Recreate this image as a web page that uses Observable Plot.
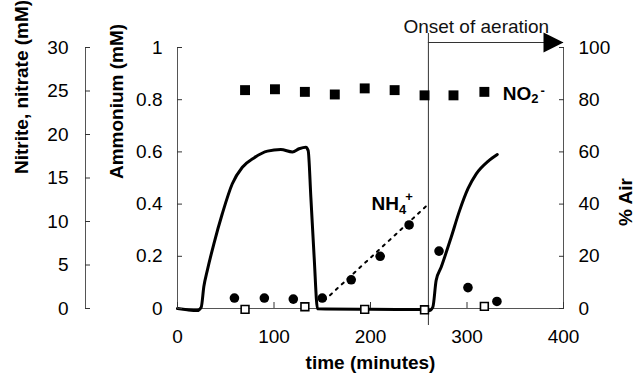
<!DOCTYPE html>
<html><head><meta charset="utf-8">
<script src="https://cdn.jsdelivr.net/npm/d3@7"></script>
<script src="https://cdn.jsdelivr.net/npm/@observablehq/plot@0.6"></script>
<style>body{margin:0;background:#fff;}</style>
</head><body><div id="chart"></div>
<script>
// ---- tick labels ----
const timeTicks = [0, 100, 200, 300, 400];
const ammoniumTicks = [0, 0.2, 0.4, 0.6, 0.8, 1];
const nitriteTicks = [0, 5, 10, 15, 20, 25, 30];
const airTicks = [0, 20, 40, 60, 80, 100];

// ---- series ----
// NO2- (filled squares, nitrite axis, mM)
const no2Time  = [70, 101, 132, 163, 194, 225, 256, 286, 318];
const no2Value = [25.1, 25.2, 24.9, 24.6, 25.3, 25.1, 24.5, 24.5, 24.9];
// nitrate (open squares, nitrite axis, mM)
const no3Time  = [70, 132, 194, 256, 318];
const no3Value = [-0.1, 0.2, -0.1, -0.15, 0.25];
// NH4+ (filled circles, ammonium axis, mM)
const nh4Time  = [59, 90, 120, 150, 180, 210, 240, 271, 301, 331];
const nh4Value = [0.04, 0.04, 0.036, 0.04, 0.11, 0.2, 0.32, 0.22, 0.08, 0.027];
// NH4+ trend (dotted)
const nh4FitTime  = [152, 260];
const nh4FitValue = [0.03, 0.40];
// % Air (solid line, right axis)
const airTime  = [0, 10, 20.5, 24.6, 27.3, 30.9, 37.7, 46.4, 56.8, 67.2, 79.3, 93.2, 107, 119.2, 126, 133, 135.4, 138.2, 141.6, 145.1, 200, 259.4, 261.1, 264.6, 268, 273.2, 283.6, 292.3, 301, 309.6, 321.8, 331.4];
const airValue = [0, -0.5, -0.8, 0.5, 8.4, 14.6, 24.8, 36.3, 47.8, 54.1, 57.7, 60.3, 60.9, 60, 61.2, 61.8, 60.5, 42.6, 19.7, -0.1, -0.3, -0.4, -0.8, 0.5, 10.7, 15.8, 27.3, 37.5, 45.9, 51.6, 56.4, 59];
const onsetTime = 260;

// ---- texts ----
const xTitle = "time (minutes)";
const nitriteTitle = "Nitrite, nitrate (mM)";
const ammoniumTitle = "Ammonium (mM)";
const airTitle = "% Air";
const onsetLabel = "Onset of aeration";
const no2Label = {t: 337, v: 24.7};   // nitrite units
const nh4Label = {t: 201, v: 0.40};   // ammonium units

const nitriteMax = d3.max(nitriteTicks);
const airMax = d3.max(airTicks);
const xMax = d3.max(timeTicks);

const zip = (a, b) => a.map((t, i) => ({t, v: b[i]}));
const no2 = zip(no2Time, no2Value);
const no3 = zip(no3Time, no3Value);
const nh4 = zip(nh4Time, nh4Value);
const nh4Fit = zip(nh4FitTime, nh4FitValue);
const air = zip(airTime, airValue);

const triangle = {draw(ctx, l) { ctx.moveTo(-10, 0); ctx.lineTo(10, 0); ctx.lineTo(0, -l); ctx.closePath(); }};
const axisStroke = "#555";

const chart = Plot.plot({
  width: 636, height: 379,
  marginLeft: 177, marginRight: 73, marginTop: 47, marginBottom: 71,
  style: {fontFamily: "'Liberation Sans', Arial, sans-serif", fontSize: "19px", color: "#000", background: "#fff", overflow: "visible"},
  x: {domain: [0, xMax]},
  y: {domain: [0, 1]},
  marks: [
    // axis lines
    Plot.ruleX([0], {stroke: axisStroke}),
    Plot.ruleX([0], {stroke: axisStroke, dx: -92}),
    Plot.ruleX([xMax], {stroke: axisStroke}),
    Plot.ruleY([0], {stroke: axisStroke}),
    // onset of aeration marker
    Plot.ruleX([onsetTime], {stroke: "#333", insetTop: -14, insetBottom: -17}),
    Plot.ruleY([1], {x1: () => onsetTime, x2: () => xMax, dy: -5, stroke: "#333"}),
    Plot.vector([1], {x: () => xMax, y: d => d, dy: -5, rotate: 90, length: 20, anchor: "end", shape: triangle, fill: "#000", stroke: "none"}),
    Plot.text([onsetLabel], {x: () => onsetTime, frameAnchor: "top", text: d => d, textAnchor: "start", dx: -25, dy: -28, fill: "#111"}),
    // % Air curve
    Plot.line(air, {x: "t", y: d => d.v / airMax, stroke: "#000", strokeWidth: 3, curve: "monotone-x", strokeLinejoin: "round"}),
    // NH4+ dotted trend
    Plot.line(nh4Fit, {x: "t", y: "v", stroke: "#000", strokeWidth: 2, strokeDasharray: "2.5,5.5"}),
    // data points
    Plot.dot(no3, {x: "t", y: d => d.v / nitriteMax, symbol: "square", r: 4.4, stroke: "#000", strokeWidth: 1.6, fill: "#fff"}),
    Plot.dot(no2, {x: "t", y: d => d.v / nitriteMax, symbol: "square", r: 5.6, fill: "#000", stroke: "none"}),
    Plot.dot(nh4, {x: "t", y: "v", symbol: "circle", r: 4.8, fill: "#000", stroke: "none"}),
    // chemical labels
    Plot.text([no2Label], {x: "t", y: d => d.v / nitriteMax, text: () => "NO", textAnchor: "start", fontWeight: "bold", fill: "#000"}),
    Plot.text([nh4Label], {x: "t", y: "v", text: () => "NH", textAnchor: "start", fontWeight: "bold", fill: "#000"}),
    // axes
    Plot.axisX(timeTicks, {anchor: "bottom", tickSize: 6, dy: -6, tickPadding: 21, tickFormat: d => String(d), label: null, stroke: "#333"}),
    Plot.axisY(ammoniumTicks, {anchor: "left", tickSize: 5, dx: 5, tickPadding: 15, tickFormat: d => String(d), label: null, stroke: "#333"}),
    Plot.axisY(nitriteTicks.map(v => v / nitriteMax), {anchor: "left", tickSize: 5, dx: -87, tickPadding: 17, tickFormat: d => String(Math.round(d * nitriteMax)), label: null, stroke: "#333"}),
    Plot.axisY(airTicks.map(v => v / airMax), {anchor: "right", tickSize: 5, dx: -5, tickPadding: 15, tickFormat: d => String(Math.round(d * airMax)), label: null, stroke: "#333"}),
    // axis titles
    Plot.text([xTitle], {frameAnchor: "bottom", text: d => d, dy: 60, fontWeight: "bold", fill: "#000"}),
    Plot.text([ammoniumTitle], {frameAnchor: "left", text: d => d, rotate: -90, dx: -61, dy: 1, fontWeight: "bold", fill: "#000"}),
    Plot.text([nitriteTitle], {frameAnchor: "left", text: d => d, rotate: -90, dx: -156, dy: -4, fontWeight: "bold", fill: "#000"}),
    Plot.text([airTitle], {frameAnchor: "right", text: d => d, rotate: -90, dx: 62, dy: 0, fontWeight: "bold", fill: "#000"})
  ]
});

// sub/superscripts for chemical labels
d3.select(chart).selectAll("text").each(function() {
  const el = d3.select(this);
  const txt = this.textContent;
  if (txt === "NO" && this.childElementCount === 0) {
    el.append("tspan").attr("dy", 3.5).attr("font-size", 13).text("2");
    el.append("tspan").attr("dy", -8.5).attr("dx", 2).attr("font-size", 13).text("-");
  } else if (txt === "NH" && this.childElementCount === 0) {
    el.append("tspan").attr("dy", 4).attr("font-size", 13).text("4");
    el.append("tspan").attr("dy", -13).attr("dx", -1).attr("font-size", 13).text("+");
  }
});

document.getElementById("chart").appendChild(chart);
</script>
</body></html>
